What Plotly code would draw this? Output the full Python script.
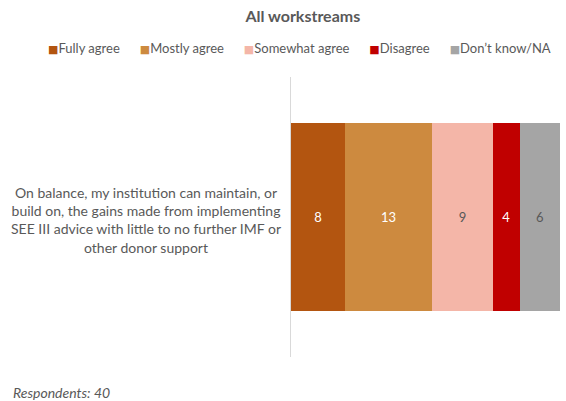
import plotly.graph_objects as go

# Survey results for one statement, stacked by response category
statement = ("On balance, my institution can maintain, or<br>build on, the gains made from implementing<br>"
             "SEE III advice with little to no further IMF or<br>other donor support")
categories = ["Fully agree", "Mostly agree", "Somewhat agree", "Disagree", "Don\u2019t know/NA"]
counts = [8, 13, 9, 4, 6]
colors = ["#B35510", "#CD8A3F", "#F4B6A8", "#C00000", "#A5A5A5"]
label_colors = ["#FFFFFF", "#FFFFFF", "#595959", "#FFFFFF", "#595959"]
respondents = sum(counts)

FONT = "Lato"
GREY = "#595959"

fig = go.Figure()
for name, val, col, tcol in zip(categories, counts, colors, label_colors):
    fig.add_trace(go.Bar(
        x=[val], y=["q1"], name=name, orientation="h",
        marker=dict(color=col, line=dict(width=0)),
        text=[str(val)], textposition="inside", insidetextanchor="middle",
        textfont=dict(color=tcol, size=13, family=FONT),
        hoverinfo="x+name", showlegend=False,
    ))

fig.update_layout(
    barmode="stack",
    bargap=0.332,
    width=566, height=401,
    margin=dict(l=291, r=6, t=77, b=44, autoexpand=False),
    paper_bgcolor="white", plot_bgcolor="white",
    font=dict(family=FONT, color=GREY, size=13),
    title=dict(text="<b>All workstreams</b>", x=0.535, xanchor="center", y=0.958, yanchor="middle",
               font=dict(size=16, color=GREY, family=FONT)),
    showlegend=False,
    xaxis=dict(range=[0, respondents], visible=False, fixedrange=True),
    yaxis=dict(showticklabels=False, showline=True, linecolor="#D9D9D9", linewidth=1,
               ticks="", showgrid=False, zeroline=False),
)

# Single-line legend row: coloured square swatch followed by the category name
gap = "&nbsp;" * 6
legend_row = gap.join(
    f"<span style='color:{c}; font-family:DejaVu Sans; font-size:11px'>\u25A0</span>{n}"
    for n, c in zip(categories, colors)
)
fig.add_annotation(text=legend_row, xref="paper", yref="paper", x=0.03, y=1.104,
                   xanchor="center", yanchor="middle", showarrow=False,
                   font=dict(size=13, color=GREY, family=FONT))

fig.add_annotation(text=statement, xref="paper", yref="paper", x=-0.54, y=0.49,
                   xanchor="center", yanchor="middle", showarrow=False, align="center",
                   font=dict(size=14, color=GREY, family=FONT))
fig.add_annotation(text=f"<i>Respondents: {respondents}</i>", xref="paper", yref="paper",
                   x=-1.04, y=-0.125, xanchor="left", yanchor="middle", showarrow=False,
                   font=dict(size=14, color=GREY, family=FONT))

fig.write_html("out.html")
